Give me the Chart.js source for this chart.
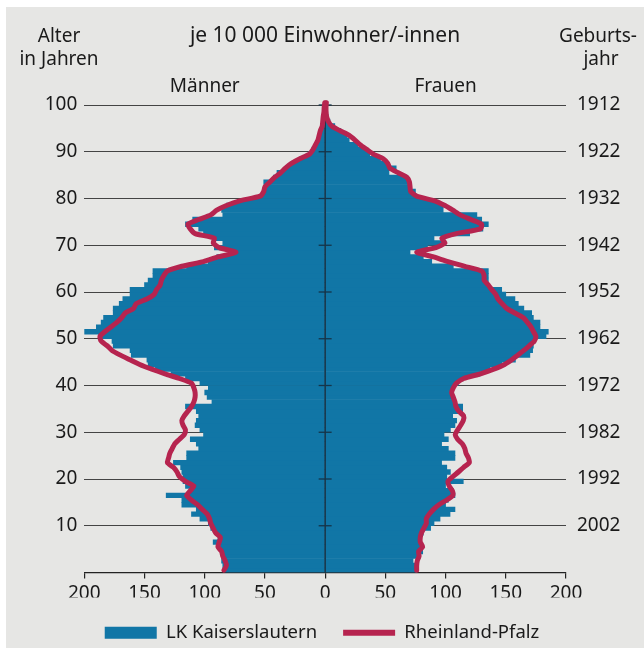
<!DOCTYPE html>
<html><head><meta charset="utf-8">
<script src="https://cdn.jsdelivr.net/npm/chart.js@4.4.1/dist/chart.umd.min.js"></script>
<style>
html,body{margin:0;padding:0;background:#fff;}
#panel{position:absolute;left:6px;top:7px;width:638px;height:641px;background:#e6e6e4;}
#c{position:absolute;left:0;top:0;}
</style></head><body>
<div id="panel"></div>
<canvas id="c" width="644" height="648"></canvas>
<script>
// ---- data (per 10 000 inhabitants, age 0 .. 100) ----
const ages = Array.from({length: 101}, (_, i) => i);
const tickAges = [10, 20, 30, 40, 50, 60, 70, 80, 90, 100];
const refYear = 2012;
const xTicks = [-200, -150, -100, -50, 0, 50, 100, 150, 200];

const klMale = [
  83, 85, 86, 86, 87, 87, 93, 89, 91, 95,
  97, 104, 111, 107, 119, 119, 132, 112, 116, 118,
  118, 119, 120, 126, 115, 115, 105, 107, 112, 101,
  104, 108, 107, 105, 107, 116, 94, 98, 100, 97,
  104, 116, 128, 141, 147, 148, 161, 162, 176, 177,
  188, 200, 190, 186, 184, 176, 176, 171, 168, 162,
  162, 150, 147, 143, 143, 115, 97, 90, 80, 92,
  85, 93, 101, 105, 116, 110, 85, 86, 82, 70,
  53, 52, 50, 51, 43, 40, 33, 28, 21, 14,
  11, 8, 6, 5, 4, 3, 2, 1.5, 1, 0.5, 0.3
];
const klFemale = [
  76, 76, 73, 79, 81, 80, 79, 79, 81.5, 87.6,
  90.4, 95.4, 103.7, 107.8, 100, 102.3, 107.8, 106.4, 100, 114.7,
  101, 104, 101, 96.7, 107.8, 107.8, 102.3, 96.7, 102.3, 98.7,
  104, 107.8, 109.2, 105.9, 114.2, 114.2, 107.8, 105, 105, 106.4,
  110.6, 114.7, 128.6, 136.9, 146.6, 158, 170, 172.3, 172.9, 174.3,
  183.4, 185.3, 178.4, 178.4, 172.9, 171.5, 165, 160.4, 157.6, 150,
  146.6, 135.5, 135.5, 135.5, 135.5, 106.4, 88.5, 81.5, 70.5, 85,
  99, 90.4, 120, 131, 135.5, 130, 126, 98, 98, 90,
  76, 75, 70, 70, 68, 53, 59, 51, 46, 37,
  34, 27, 20, 18, 13, 8, 4, 2.5, 1.5, 1, 0.5
];
const rlpMale = [
  84, 82, 83, 85, 86, 89, 88, 87, 91, 93,
  95, 96, 98, 102, 106, 111, 115, 112, 109, 116,
  121, 123, 126, 131, 130, 129, 127, 125, 121, 117,
  116, 118, 119, 117, 114, 111, 109, 108, 108, 109,
  111, 121, 133, 144, 154, 162, 170, 177, 181, 186,
  187, 183, 178, 173, 169, 166, 159, 157, 148, 142,
  140, 137, 136, 134, 131, 119, 101, 89, 74, 88,
  93, 92, 108, 112, 114, 105, 95, 90, 82, 71,
  54, 51, 50, 46, 42, 37, 33, 28, 21, 13,
  10, 8, 6, 5, 4, 2.4, 2, 1.6, 1, 0.8, 0.3
];
const rlpFemale = [
  76, 76, 76.5, 78, 77.6, 81, 79, 79, 80, 82,
  84, 84, 86.5, 90, 94.5, 101, 106, 105.6, 103, 102,
  106, 110.6, 115, 119.7, 119, 117, 116, 114, 110, 108,
  110, 112.5, 114.7, 115, 111, 108.6, 107.8, 106.4, 105, 106.4,
  109, 115, 129, 140, 149, 155, 160, 165, 169.5, 173.7,
  175, 173, 171, 168, 164.6, 157.6, 150.7, 147, 143.5, 141.6,
  138.3, 135.5, 132, 132, 130, 116, 102, 90, 76, 92,
  99.5, 97, 109, 129, 130, 121, 112, 106, 99.5, 91,
  76, 71, 70.5, 70, 68, 60.7, 53.8, 52, 48.3, 40,
  34.4, 29, 24.8, 20, 12.3, 5.4, 2.6, 1.2, 0.8, 0.7, 1
];

// ---- styles ----
const FONT = '"Noto Sans", "DejaVu Sans", sans-serif';
const TXT = '#1a1a1a';
const KL_COLOR = '#1176a6';
const RLP_COLOR = '#b6244f';
const AXIS_COLOR = '#15354a';
const AREA = {left: 84.3, right: 566, top: 105, bottom: 572.5};
let xAxisHeight = 22;

const pts = (vals, sign) => ages.map((a, i) => ({x: sign * vals[i], y: a + 0.5}));

const barBase = {type: 'bar', backgroundColor: KL_COLOR, borderWidth: 0,
  barPercentage: 1, categoryPercentage: 1, grouped: false, order: 2};
const lineBase = {type: 'line', borderColor: RLP_COLOR, backgroundColor: RLP_COLOR,
  borderWidth: 5, pointRadius: 0, pointHoverRadius: 0, tension: 0.2, fill: false,
  borderJoinStyle: 'round', borderCapStyle: 'round', order: 1, clip: 6};

const overlay = {
  id: 'overlay',
  afterDatasetDraw(chart, args) {
    if (args.index !== 0) return;
    const {ctx, scales: {x, y}} = chart;
    const x0 = x.getPixelForValue(0);
    ctx.save();
    ctx.strokeStyle = AXIS_COLOR;
    ctx.lineWidth = 1.6;
    ctx.beginPath();
    ctx.moveTo(x0, y.getPixelForValue(0));
    ctx.lineTo(x0, y.getPixelForValue(100));
    ctx.stroke();
    ctx.lineWidth = 1.3;
    tickAges.forEach(v => {
      const py = y.getPixelForValue(v);
      ctx.beginPath();
      ctx.moveTo(x0 - 6.5, py);
      ctx.lineTo(x0 + 6.5, py);
      ctx.stroke();
    });
    ctx.restore();
  },
  afterDraw(chart) {
    const {ctx, scales: {x}} = chart;
    ctx.save();
    ctx.fillStyle = TXT;
    ctx.textAlign = 'center';
    ctx.textBaseline = 'alphabetic';
    ctx.font = '19px ' + FONT;
    ctx.fillText('Alter', 59, 42);
    ctx.fillText('in Jahren', 59, 65);
    ctx.fillText('Geburts-', 598, 42);
    ctx.fillText('jahr', 601, 65);
    ctx.fillText('Männer', x.getPixelForValue(-100), 92);
    ctx.fillText('Frauen', x.getPixelForValue(100), 92);
    ctx.font = '21px ' + FONT;
    ctx.fillText('je 10 000 Einwohner/-innen', 325, 42);
    ctx.restore();
  }
};

const config = {
  data: {
    datasets: [
      Object.assign({label: 'LK Kaiserslautern', data: pts(klMale, -1)}, barBase),
      Object.assign({label: 'LK Kaiserslautern (Frauen)', data: pts(klFemale, 1)}, barBase),
      Object.assign({label: 'Rheinland-Pfalz', data: pts(rlpMale, -1)}, lineBase),
      Object.assign({label: 'Rheinland-Pfalz (Frauen)', data: pts(rlpFemale, 1)}, lineBase)
    ]
  },
  options: {
    responsive: false,
    animation: false,
    devicePixelRatio: 1,
    indexAxis: 'y',
    layout: {padding: {top: AREA.top, left: 0, right: 0, bottom: -4}},
    scales: {
      x: {
        type: 'linear', position: 'bottom', min: -200, max: 200, offset: false,
        afterBuildTicks: s => { s.ticks = xTicks.map(v => ({value: v})); },
        ticks: {callback: v => String(Math.abs(v)), font: {family: FONT, size: 19}, color: TXT,
          padding: 4, maxRotation: 0, autoSkip: false},
        grid: {drawOnChartArea: false, drawTicks: true, tickLength: 6, color: '#222', lineWidth: 1.2, offset: false},
        border: {display: true, color: '#222', width: 1.2},
        afterFit: s => { s.height = xAxisHeight; }
      },
      y: {
        type: 'linear', position: 'left', min: 0, max: 100, offset: false,
        afterBuildTicks: s => { s.ticks = tickAges.map(v => ({value: v})); },
        ticks: {font: {family: FONT, size: 19}, color: TXT, padding: 7, autoSkip: false},
        grid: {color: '#444', lineWidth: 1, drawTicks: false, offset: false},
        border: {display: false},
        afterFit: s => { s.width = AREA.left; }
      },
      y2: {
        type: 'linear', position: 'right', min: 0, max: 100, offset: false,
        afterBuildTicks: s => { s.ticks = tickAges.map(v => ({value: v})); },
        ticks: {callback: v => String(refYear - v), font: {family: FONT, size: 19}, color: TXT,
          padding: 11, autoSkip: false},
        grid: {display: false, drawTicks: false, offset: false},
        border: {display: false},
        afterFit: s => { s.width = 644 - AREA.right; }
      }
    },
    plugins: {
      tooltip: {enabled: false},
      legend: {
        position: 'bottom',
        align: 'center',
        labels: {
          usePointStyle: true, pointStyleWidth: 52, boxHeight: 12, padding: 26,
          font: {family: FONT, size: 18.5}, color: TXT,
          generateLabels: () => [
            {text: 'LK Kaiserslautern', fillStyle: KL_COLOR, strokeStyle: KL_COLOR, lineWidth: 0,
             pointStyle: 'rect', datasetIndex: 0, hidden: false, fontColor: TXT},
            {text: 'Rheinland-Pfalz', fillStyle: RLP_COLOR, strokeStyle: RLP_COLOR, lineWidth: 6,
             lineCap: 'butt', pointStyle: 'line', datasetIndex: 2, hidden: false, fontColor: TXT}
          ]
        }
      }
    }
  },
  plugins: [overlay]
};

const chart = new Chart(document.getElementById('c'), config);
const diff = chart.chartArea.bottom - AREA.bottom;
if (Math.abs(diff) > 0.01) { xAxisHeight += diff; chart.update(); }
</script></body></html>
